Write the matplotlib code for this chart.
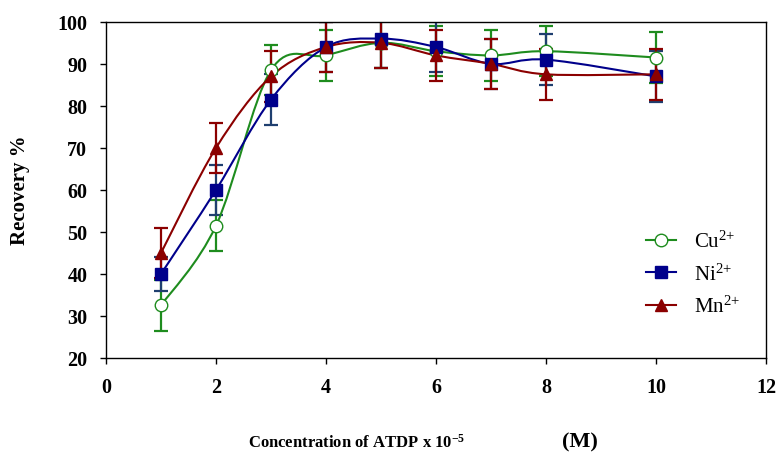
import numpy as np
import matplotlib.pyplot as plt
from matplotlib.path import Path
from matplotlib.patches import PathPatch
from matplotlib.lines import Line2D

# concentration (x 10^-5 M)
conc = [1, 2, 3, 4, 5, 6, 7, 8, 10]

# recovery % and error bars
cu = [32.5, 51.5, 88.5, 92.0, 95.0, 93.0, 92.0, 93.0, 91.5]
cu_err = [6, 6, 6, 6, 6, 6, 6, 6, 6]
ni = [40.0, 60.0, 81.5, 94.0, 96.0, 94.0, 90.0, 91.0, 87.0]
ni_err = [4, 6, 6, 6, 7, 6, 6, 6, 6]
mn = [45.0, 70.0, 87.0, 94.0, 95.0, 92.0, 90.0, 87.5, 87.5]
mn_err = [6, 6, 6, 6, 6, 6, 6, 6, 6]

plt.rcParams['font.family'] = ['Liberation Serif', 'DejaVu Serif']
plt.rcParams['mathtext.fontset'] = 'custom'
plt.rcParams['mathtext.rm'] = 'Liberation Serif'
plt.rcParams['mathtext.it'] = 'Liberation Serif:italic'
plt.rcParams['mathtext.bf'] = 'Liberation Serif:bold'


def smooth_path(xs, ys):
    # excel-like smoothed line: bezier segments through the points
    pts = np.column_stack([xs, ys]).astype(float)
    n = len(pts)
    verts = [pts[0]]
    codes = [Path.MOVETO]
    for i in range(n - 1):
        p0 = pts[i - 1] if i > 0 else pts[i]
        p1 = pts[i]
        p2 = pts[i + 1]
        p3 = pts[i + 2] if i + 2 < n else pts[i + 1]
        c1 = p1 + (p2 - p0) / 6.0
        c2 = p2 - (p3 - p1) / 6.0
        verts += [c1, c2, p2]
        codes += [Path.CURVE4] * 3
    return Path(verts, codes)


fig = plt.figure(figsize=(7.8, 4.56), dpi=100)
ax = fig.add_axes([0.136, 0.213, 0.846, 0.737])

series = [
    (cu, cu_err, '#1e8c1e', '#1e8c1e', 'o', 'white', r'Cu$^{2{+}}$'),
    (ni, ni_err, '#00008b', '#1f3f6f', 's', '#00008b', r'Ni$^{2{+}}$'),
    (mn, mn_err, '#8b0000', '#8b0000', '^', '#8b0000', r'Mn$^{2{+}}$'),
]

handles = []
for vals, err, col, ecol, mk, mfc, lab in series:
    ax.errorbar(conc, vals, yerr=err, fmt='none', ecolor=ecol, elinewidth=1.6,
                capsize=5, capthick=1.6, zorder=2)
    ax.add_patch(PathPatch(smooth_path(conc, vals), fill=False, edgecolor=col,
                           linewidth=1.5, zorder=3))
    ax.plot(conc, vals, linestyle='none', marker=mk, markersize=9,
            markerfacecolor=mfc, markeredgecolor=col, markeredgewidth=1.0, zorder=4)
    handles.append(Line2D([], [], color=col, linewidth=1.5, marker=mk, markersize=9,
                          markerfacecolor=mfc, markeredgecolor=col, label=lab))

ax.set_xlim(0, 12)
ax.set_ylim(20, 100)
ax.set_xticks(range(0, 13, 2))
ax.set_yticks(range(20, 101, 10))
ax.tick_params(direction='out', length=4.5, width=1, labelsize=14.5, pad=9)
for lbl in ax.get_xticklabels() + ax.get_yticklabels():
    lbl.set_fontweight('bold')
for sp in ax.spines.values():
    sp.set_linewidth(1.0)

fig.text(0.026, 0.583, 'Recovery %', fontsize=15, fontweight='bold',
         rotation=90, ha='center', va='center')

fig.text(0.318, 0.018, r'Concentration of ATDP x 10$^{\mathbf{-5}}$', fontsize=12,
         fontweight='bold', ha='left', va='baseline')
fig.text(0.72, 0.018, '(M)', fontsize=16, fontweight='bold', ha='left', va='baseline')

ax.legend(handles=handles, loc='center left', bbox_to_anchor=(0.805, 0.25),
          borderaxespad=0, frameon=False, fontsize=15, handlelength=1.45,
          labelspacing=0.55, handletextpad=0.85)

fig.savefig('out.png', dpi=100)
